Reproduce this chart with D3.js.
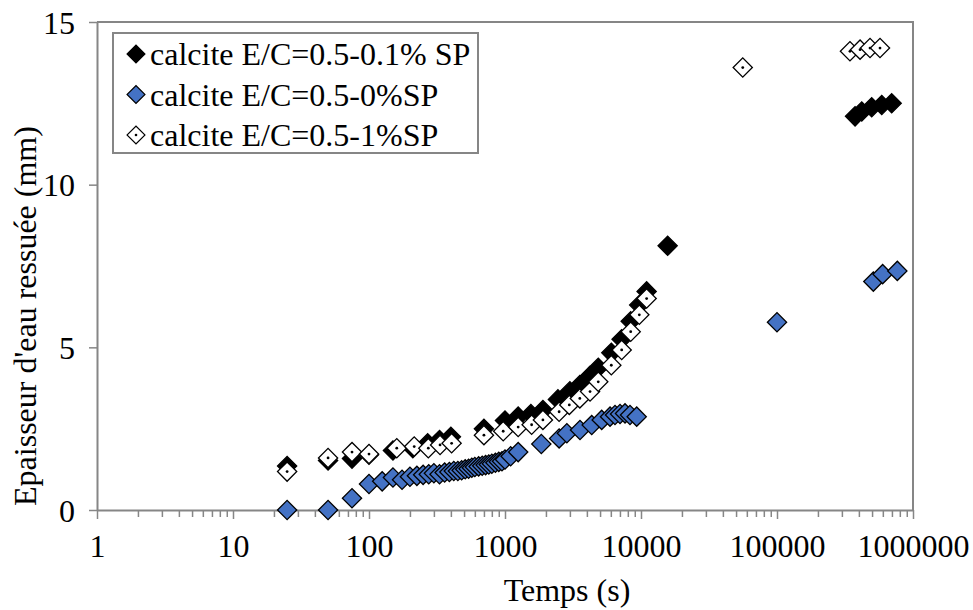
<!DOCTYPE html>
<html><head><meta charset="utf-8">
<script src="https://cdn.jsdelivr.net/npm/d3@7"></script>
<style>
body{margin:0;background:#fff;}
</style></head>
<body><svg id="c" width="973" height="610"></svg>
<script>
// ---- data ----
const timesSP01 = [25,50,75,100,150,210,270,330,400,700,1000,1250,1550,1900,2450,3000,3550,4200,4850,6050,7200,8400,9700,11000,15700,375000,420000,497000,589000,697000];
const valuesSP01 = [1.35,1.52,1.58,1.7,1.83,1.9,2.05,2.15,2.25,2.5,2.75,2.87,2.95,3.07,3.4,3.65,3.84,4.12,4.37,4.83,5.25,5.8,6.3,6.72,8.12,12.1,12.25,12.38,12.45,12.5];

const timesSP0 = [25,50,75,100,125,150,175,200,225,250,275,300,330,360,390,420,450,480,510,540,570,600,640,680,720,760,800,850,900,950,1000,1100,1250,1850,2500,2850,3560,4340,5140,5920,6440,7010,7630,8300,9300,100000,511000,598000,767000];
const valuesSP0 = [0,0,0.36,0.8,0.88,1.0,0.93,1.02,1.05,1.08,1.1,1.13,1.1,1.15,1.17,1.2,1.2,1.22,1.25,1.27,1.3,1.32,1.34,1.36,1.38,1.4,1.42,1.45,1.48,1.5,1.55,1.65,1.78,2.03,2.2,2.36,2.46,2.61,2.77,2.87,2.92,2.95,2.97,2.92,2.87,5.77,7.02,7.25,7.35];

const timesSP1 = [25,50,75,100,160,215,273,333,405,700,970,1250,1570,1900,2500,2970,3550,4220,4850,6050,7210,8400,9720,11000,56000,344000,408000,483000,572000];
const valuesSP1 = [1.18,1.6,1.78,1.72,1.9,1.95,1.9,2.0,2.05,2.3,2.42,2.55,2.62,2.77,3.02,3.23,3.43,3.64,3.94,4.45,4.92,5.48,6.0,6.5,13.6,14.1,14.15,14.2,14.2];

const seriesNames = ["calcite E/C=0.5-0.1% SP","calcite E/C=0.5-0%SP","calcite E/C=0.5-1%SP"];
const xTickValues = [1,10,100,1000,10000,100000,1000000];
const yTickValues = [0,5,10,15];
const xTitle = "Temps (s)";
const yTitle = "Epaisseur d'eau ressuée (mm)";

// ---- chart ----
const FONT = "Liberation Serif";
const svg = d3.select("#c");
const X0=97, X1=913, Y0=22, Y1=510;
const x = d3.scaleLog().domain([1,1e6]).range([X0,X1]);
const y = d3.scaleLinear().domain([0,15]).range([Y1,Y0]);
const axisCol = "#868686";
const fontSize = 32;

// plot border top/right
svg.append("path").attr("d",`M${X0},${Y0}H${X1}V${Y1}`).attr("fill","none").attr("stroke",axisCol).attr("stroke-width",2);

// minor x ticks
const minor=[];
for(let k=0;k<6;k++) for(let m=2;m<=9;m++) minor.push(m*Math.pow(10,k));
svg.append("g").attr("transform",`translate(0,${Y1})`)
  .call(d3.axisBottom(x).tickValues(minor).tickSize(7).tickFormat(""))
  .call(g=>{g.select(".domain").remove(); g.selectAll("line").attr("stroke",axisCol).attr("stroke-width",1.5);});

// major x axis
const gx = svg.append("g").attr("transform",`translate(0,${Y1})`)
  .call(d3.axisBottom(x).tickValues(xTickValues).tickSize(9).tickSizeOuter(0).tickPadding(14).tickFormat(d3.format("d")));
gx.attr("font-family",null);
gx.select(".domain").attr("stroke",axisCol).attr("stroke-width",2);
gx.selectAll("line").attr("stroke",axisCol).attr("stroke-width",1.5);
gx.selectAll("text").style("font-size",fontSize+"px").style("font-family",FONT).attr("dy","0.75em");

// y axis
const gy = svg.append("g").attr("transform",`translate(${X0},0)`)
  .call(d3.axisLeft(y).tickValues(yTickValues).tickSize(8).tickSizeOuter(0).tickPadding(14));
gy.attr("font-family",null);
gy.select(".domain").attr("stroke",axisCol).attr("stroke-width",2);
gy.selectAll("line").attr("stroke",axisCol).attr("stroke-width",1.5);
gy.selectAll("text").style("font-size",fontSize+"px").style("font-family",FONT).attr("dy","0.35em");

// titles
svg.append("text").attr("x",567).attr("y",601).attr("text-anchor","middle").style("font-size",fontSize+"px").style("font-family",FONT).text(xTitle);
svg.append("text").attr("transform",`translate(36,${316}) rotate(-90)`).attr("text-anchor","middle").style("font-size",fontSize+"px").style("font-family",FONT).text(yTitle);

// markers
const diamond = d3.symbol().type(d3.symbolSquare).size(185)();
function drawSeries(ts, vs, fill, dot){
  const g = svg.append("g");
  const pts = ts.map((t,i)=>({t,v:vs[i]}));
  const sel = g.selectAll("g").data(pts).join("g")
    .attr("transform",d=>`translate(${x(d.t)},${y(d.v)})`);
  sel.append("path").attr("d",diamond).attr("transform","rotate(45)")
    .attr("fill",fill).attr("stroke","#000").attr("stroke-width",1.3);
  if(dot) sel.append("circle").attr("r",1.4).attr("fill","#000");
}
drawSeries(timesSP01, valuesSP01, "#000", false);
drawSeries(timesSP0, valuesSP0, "#4472C4", false);
drawSeries(timesSP1, valuesSP1, "#fff", true);

// legend
const lg = svg.append("g");
lg.append("rect").attr("x",113).attr("y",33).attr("width",365).attr("height",120)
  .attr("fill","#fff").attr("stroke",axisCol).attr("stroke-width",2);
const legFills=["#000","#4472C4","#fff"];
const smallD = d3.symbol().type(d3.symbolSquare).size(160)();
seriesNames.forEach((n,i)=>{
  const cy = 54 + i*40.5;
  const mg = lg.append("g").attr("transform",`translate(136,${cy})`);
  mg.append("path").attr("d",smallD).attr("transform","rotate(45)").attr("fill",legFills[i]).attr("stroke","#000").attr("stroke-width",1.2);
  if(i===2) mg.append("circle").attr("r",1.3).attr("fill","#000");
  lg.append("text").attr("x",150).attr("y",cy).attr("dy","0.35em").style("font-size",fontSize+"px").style("font-family",FONT).text(n);
});
</script></body></html>
